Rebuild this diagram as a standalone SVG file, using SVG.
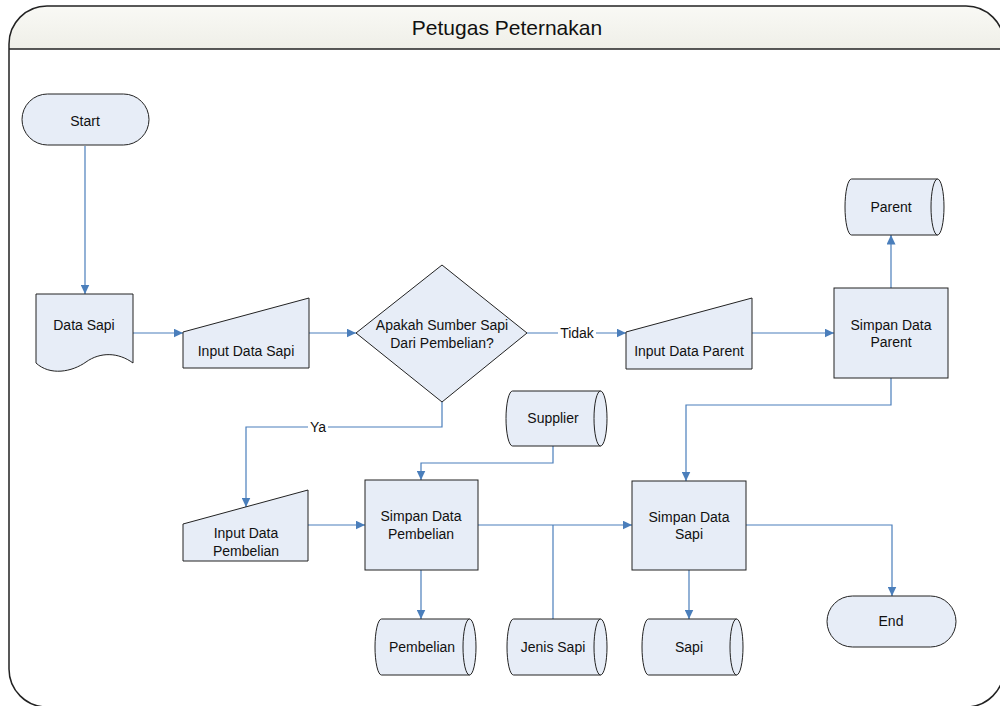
<svg xmlns="http://www.w3.org/2000/svg" width="1000" height="706" viewBox="0 0 1000 706">
  <defs>
    <linearGradient id="hdr" x1="0" y1="0" x2="0" y2="1">
      <stop offset="0" stop-color="#f9f9f5"/>
      <stop offset="1" stop-color="#efefe8"/>
    </linearGradient>
    <marker id="arr" markerUnits="userSpaceOnUse" markerWidth="10" markerHeight="9" refX="9.5" refY="4.5" orient="auto">
      <path d="M0,0 L9.5,4.5 L0,9 Z" fill="#4a7ebb"/>
    </marker>
  </defs>
  <style>
    .shape { fill: #e7edf7; stroke: #222; stroke-width: 1; }
    .cap { fill: none; stroke: #222; stroke-width: 1; }
    .lbl { font-family: "Liberation Sans", Arial, sans-serif; font-size: 14px; fill: #111; text-anchor: middle; }
    .title { font-family: "Liberation Sans", Arial, sans-serif; font-size: 21px; fill: #111; text-anchor: middle; }
    .conn { fill: none; stroke: #4a7ebb; stroke-width: 1.2; }
    .tag { fill: #fff; }
  </style>

  <!-- swimlane frame -->
  <g id="lane">
    <rect x="9" y="6" width="995" height="701" rx="38" ry="38" fill="#fff"/>
    <path d="M9,49 V44 A38,38 0 0 1 47,6 H966 A38,38 0 0 1 1004,44 V49 Z" fill="url(#hdr)"/>
    <line x1="9" y1="49" x2="1004" y2="49" stroke="#222" stroke-width="1.5"/>
    <rect x="9" y="6" width="995" height="701" rx="38" ry="38" fill="none" stroke="#222" stroke-width="1.5"/>
    <text class="title" x="507" y="35">Petugas Peternakan</text>
  </g>

  <!-- connectors -->
  <g id="connectors">
    <path class="conn" d="M85,146 V294" marker-end="url(#arr)"/>
    <path class="conn" d="M133,333 H183" marker-end="url(#arr)"/>
    <path class="conn" d="M309,333 H356" marker-end="url(#arr)"/>
    <path class="conn" d="M527,333 H626" marker-end="url(#arr)"/>
    <path class="conn" d="M752,333 H834" marker-end="url(#arr)"/>
    <path class="conn" d="M891,288 V235" marker-end="url(#arr)"/>
    <path class="conn" d="M891,378 V405 H686 V481" marker-end="url(#arr)"/>
    <path class="conn" d="M442,402 V427 H246 V507" marker-end="url(#arr)"/>
    <path class="conn" d="M308,525 H365" marker-end="url(#arr)"/>
    <path class="conn" d="M553,446 V463 H421 V480" marker-end="url(#arr)"/>
    <path class="conn" d="M478,525 H632" marker-end="url(#arr)"/>
    <path class="conn" d="M553,619 V525"/>
    <path class="conn" d="M421,570 V619" marker-end="url(#arr)"/>
    <path class="conn" d="M689,570 V619" marker-end="url(#arr)"/>
    <path class="conn" d="M746,525 H892 V596" marker-end="url(#arr)"/>
    <!-- branch labels -->
    <rect class="tag" x="558" y="325" width="38" height="16"/>
    <text class="lbl" x="577" y="338">Tidak</text>
    <rect class="tag" x="308" y="419" width="20" height="16"/>
    <text class="lbl" x="318" y="432">Ya</text>
  </g>

  <g id="start">
    <rect class="shape" x="22" y="94" width="127" height="51" rx="25.5" ry="25.5"/>
    <text class="lbl" x="85" y="126">Start</text>
  </g>

  <g id="data-sapi">
    <path class="shape" d="M36,294 H133 V363 C118,352 100,352 86,362 C72,372 50,376 36,363 Z"/>
    <text class="lbl" x="84" y="330">Data Sapi</text>
  </g>

  <g id="input-data-sapi">
    <path class="shape" d="M183,332 L309,298 V368 H183 Z"/>
    <text class="lbl" x="246" y="356">Input Data Sapi</text>
  </g>

  <g id="decision">
    <path class="shape" d="M356,333 L442,265 L527,333 L442,402 Z"/>
    <text class="lbl" x="442" y="330">Apakah Sumber Sapi</text>
    <text class="lbl" x="442" y="348">Dari Pembelian?</text>
  </g>

  <g id="input-data-parent">
    <path class="shape" d="M626,332 L752,298 V369 H626 Z"/>
    <text class="lbl" x="689" y="356">Input Data Parent</text>
  </g>

  <g id="simpan-data-parent">
    <rect class="shape" x="834" y="288" width="114" height="90"/>
    <text class="lbl" x="891" y="330">Simpan Data</text>
    <text class="lbl" x="891" y="347">Parent</text>
  </g>

  <g id="parent">
    <path class="shape" d="M851.5,179 H937.5 A6.5,28 0 0 1 937.5,235 H851.5 A6.5,28 0 0 1 851.5,179 Z"/>
    <path class="cap" d="M937.5,179 A6.5,28 0 0 0 937.5,235"/>
    <text class="lbl" x="891" y="212">Parent</text>
  </g>

  <g id="input-data-pembelian">
    <path class="shape" d="M183,524 L308,490 V561 H183 Z"/>
    <text class="lbl" x="246" y="538">Input Data</text>
    <text class="lbl" x="246" y="556">Pembelian</text>
  </g>

  <g id="simpan-data-pembelian">
    <rect class="shape" x="365" y="480" width="113" height="90"/>
    <text class="lbl" x="421" y="521">Simpan Data</text>
    <text class="lbl" x="421" y="539">Pembelian</text>
  </g>

  <g id="supplier">
    <path class="shape" d="M512.5,391 H600.5 A6.5,27.5 0 0 1 600.5,446 H512.5 A6.5,27.5 0 0 1 512.5,391 Z"/>
    <path class="cap" d="M600.5,391 A6.5,27.5 0 0 0 600.5,446"/>
    <text class="lbl" x="553" y="423">Supplier</text>
  </g>

  <g id="simpan-data-sapi">
    <rect class="shape" x="632" y="481" width="114" height="89"/>
    <text class="lbl" x="689" y="522">Simpan Data</text>
    <text class="lbl" x="689" y="539">Sapi</text>
  </g>

  <g id="end">
    <rect class="shape" x="827" y="596" width="129" height="51" rx="25.5" ry="25.5"/>
    <text class="lbl" x="891" y="626">End</text>
  </g>

  <g id="pembelian">
    <path class="shape" d="M381.5,619 H469.5 A6.5,28 0 0 1 469.5,675 H381.5 A6.5,28 0 0 1 381.5,619 Z"/>
    <path class="cap" d="M469.5,619 A6.5,28 0 0 0 469.5,675"/>
    <text class="lbl" x="422" y="652">Pembelian</text>
  </g>

  <g id="jenis-sapi">
    <path class="shape" d="M513.5,619 H600.5 A6.5,28 0 0 1 600.5,675 H513.5 A6.5,28 0 0 1 513.5,619 Z"/>
    <path class="cap" d="M600.5,619 A6.5,28 0 0 0 600.5,675"/>
    <text class="lbl" x="553" y="652">Jenis Sapi</text>
  </g>

  <g id="sapi">
    <path class="shape" d="M648.5,619 H736.5 A6.5,28 0 0 1 736.5,675 H648.5 A6.5,28 0 0 1 648.5,619 Z"/>
    <path class="cap" d="M736.5,619 A6.5,28 0 0 0 736.5,675"/>
    <text class="lbl" x="689" y="652">Sapi</text>
  </g>
</svg>
